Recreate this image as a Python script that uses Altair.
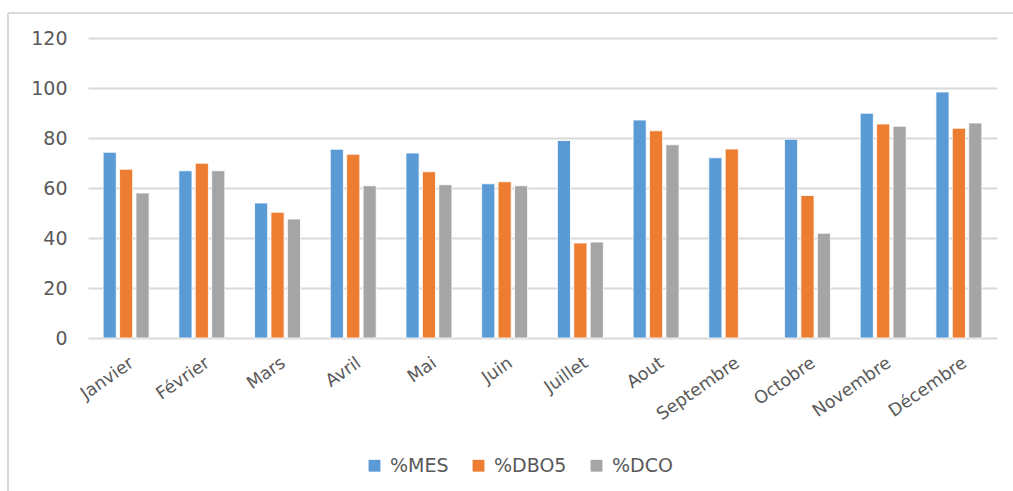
import altair as alt
import pandas as pd

months = ["Janvier", "Février", "Mars", "Avril", "Mai", "Juin", "Juillet",
          "Aout", "Septembre", "Octobre", "Novembre", "Décembre"]
series = ["%MES", "%DBO5", "%DCO"]
mes = [74.3, 66.9, 54.0, 75.5, 74.0, 61.7, 79.0, 87.2, 72.1, 79.5, 89.9, 98.4]
dbo5 = [67.5, 69.9, 50.3, 73.5, 66.5, 62.5, 38.0, 82.9, 75.6, 57.0, 85.6, 83.9]
dco = [58.0, 66.9, 47.6, 60.9, 61.3, 60.9, 38.4, 77.3, None, 41.9, 84.7, 86.0]
colors = ["#5B9BD5", "#ED7D31", "#A5A5A5"]
y_ticks = [0, 20, 40, 60, 80, 100, 120]

rows = []
for name, vals in zip(series, [mes, dbo5, dco]):
    for m, v in zip(months, vals):
        if v is not None:
            rows.append({"mois": m, "serie": name, "valeur": v})
df = pd.DataFrame(rows)

FONT = "DejaVu Sans"
TXT = "#595959"
GRID = "#D9D9D9"

bars = alt.Chart(df).mark_bar(stroke="white", strokeWidth=0.8).encode(
    x=alt.X("mois:N", sort=months, title=None,
            scale=alt.Scale(paddingInner=0.393, paddingOuter=0.2),
            axis=alt.Axis(labelAngle=-35, labelAlign="right", labelBaseline="middle",
                          labelPadding=23, labelOffset=6, ticks=False, domain=False,
                          labelFont=FONT, labelFontSize=17.5, labelColor=TXT, grid=False)),
    xOffset=alt.XOffset("serie:N", sort=series,
                        scale=alt.Scale(paddingInner=0.2, paddingOuter=0)),
    y=alt.Y("valeur:Q", title=None,
            scale=alt.Scale(domain=[0, 120], nice=False),
            axis=alt.Axis(values=y_ticks, ticks=False, domain=False, labelPadding=21,
                          labelFont=FONT, labelFontSize=19, labelColor=TXT,
                          gridColor=GRID, gridWidth=2)),
    color=alt.Color("serie:N", sort=series,
                    scale=alt.Scale(domain=series, range=colors),
                    legend=alt.Legend(title=None, orient="none", direction="horizontal",
                                      legendX=277, legendY=418, symbolType="square",
                                      symbolSize=140, symbolStrokeWidth=0,
                                      labelFont=FONT, labelFontSize=19, labelColor=TXT,
                                      labelOffset=6, columnPadding=20)),
)

frame = alt.Chart(alt.Data(values=[{}]))
left_border = frame.mark_rule(color=GRID, strokeWidth=2).encode(
    x=alt.value(-80), y=alt.value(-25), y2=alt.value(460))
top_border = frame.mark_rule(color=GRID, strokeWidth=2).encode(
    x=alt.value(-80), x2=alt.value(940), y=alt.value(-25))

chart = alt.layer(bars, left_border, top_border).properties(
    width=909, height=300,
    padding={"left": 88, "top": 38, "right": 16, "bottom": 153},
    autosize=alt.AutoSizeParams(type="none"),
    background="white",
).configure_view(stroke=None)

chart.save("out.html", embed_options={"renderer": "svg", "actions": False})
